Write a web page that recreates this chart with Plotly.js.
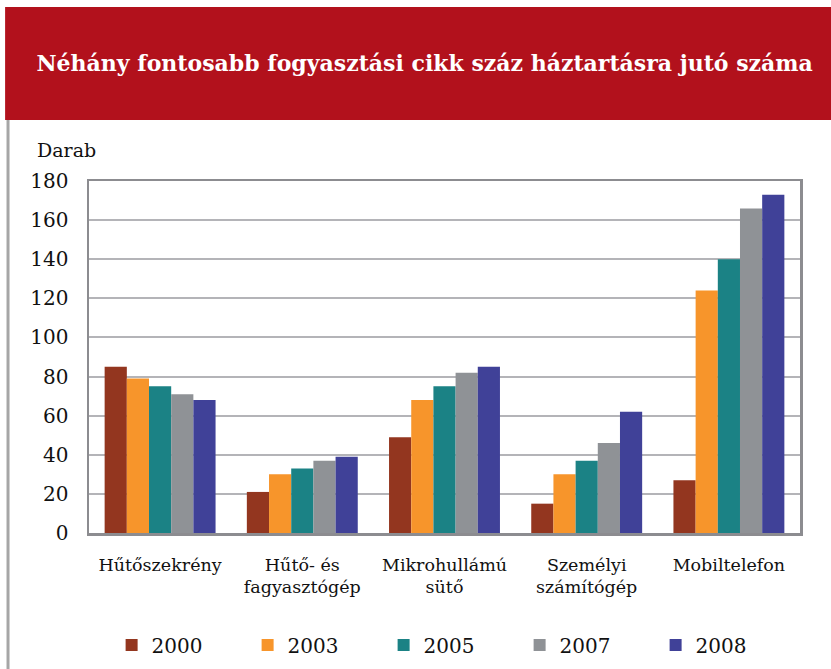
<!DOCTYPE html>
<html>
<head>
<meta charset="utf-8">
<script src="https://cdn.plot.ly/plotly-3.0.1.min.js"></script>
<style>html,body{margin:0;padding:0;background:#fff;}#chart{width:831px;height:669px;}</style>
</head>
<body>
<div id="chart"></div>
<script>
const categories = ["Hűtőszekrény", "Hűtő- és<br>fagyasztógép", "Mikrohullámú<br>sütő", "Személyi<br>számítógép", "Mobiltelefon"];
const years = ["2000", "2003", "2005", "2007", "2008"];
const v2000 = [85, 21, 49, 15, 27];
const v2003 = [79, 30, 68, 30, 124];
const v2005 = [75, 33, 75, 37, 140];
const v2007 = [71, 37, 82, 46, 166];
const v2008 = [68, 39, 85, 62, 173];
const series = [v2000, v2003, v2005, v2007, v2008];
const colors = ["#93361F", "#F7952B", "#1B8285", "#8F9296", "#404198"];
const yTicks = [0, 20, 40, 60, 80, 100, 120, 140, 160, 180];

const serif = "DejaVu Serif, Liberation Serif, serif";

const traces = series.map((vals, i) => ({
  type: "bar",
  name: years[i],
  x: categories,
  y: vals,
  marker: {color: colors[i], line: {width: 0}},
  hoverinfo: "skip"
}));

const layout = {
  width: 831, height: 669,
  margin: {l: 89, r: 31, t: 181, b: 136, autoexpand: false},
  paper_bgcolor: "#ffffff",
  plot_bgcolor: "#ffffff",
  barmode: "group",
  bargap: 0.22,
  bargroupgap: 0,
  font: {family: serif, color: "#111111"},
  title: {
    text: "<b>Néhány fontosabb fogyasztási cikk száz háztartásra jutó száma</b>",
    font: {family: serif, size: 22, color: "#ffffff"},
    x: 0.511, xref: "container", xanchor: "center",
    y: 1 - 63/669, yref: "container", yanchor: "middle"
  },
  xaxis: {
    type: "category",
    showline: true, mirror: true, linecolor: "#8c8c90", linewidth: 2.5,
    ticks: "", showgrid: false,
    tickfont: {family: serif, size: 17.5, color: "#111111"},
    ticklabelstandoff: 14
  },
  yaxis: {
    range: [0, 180], tickvals: yTicks, ticktext: yTicks.map(String),
    showline: true, mirror: true, linecolor: "#8c8c90", linewidth: 2.5,
    gridcolor: "#b4b4b8", gridwidth: 2,
    ticks: "", zeroline: false,
    tickfont: {family: serif, size: 20, color: "#111111"},
    ticklabelstandoff: 14
  },
  showlegend: true,
  legend: {
    orientation: "h",
    x: 0.51, xanchor: "center", xref: "paper",
    y: -0.318, yanchor: "middle", yref: "paper",
    font: {family: serif, size: 20, color: "#111111"},
    entrywidth: 91, entrywidthmode: "pixels",
    itemwidth: 30,
    traceorder: "normal"
  },
  shapes: [
    {type: "rect", xref: "paper", yref: "paper", x0: -0.118, x1: 1.05, y0: 1.173, y1: 1.494,
     fillcolor: "#B2111C", line: {width: 0}, layer: "below"},
    {type: "line", xref: "paper", yref: "paper", x0: -0.1139, x1: -0.1139, y0: -0.4, y1: 1.173,
     line: {color: "#a6a6a6", width: 3}}
  ],
  annotations: [
    {text: "Darab", xref: "paper", yref: "paper", x: -0.076, xanchor: "left",
     y: 1.088, yanchor: "middle", showarrow: false,
     font: {family: serif, size: 19, color: "#111111"}}
  ]
};

Plotly.newPlot("chart", traces, layout, {displayModeBar: false, staticPlot: true});
</script>
</body>
</html>
